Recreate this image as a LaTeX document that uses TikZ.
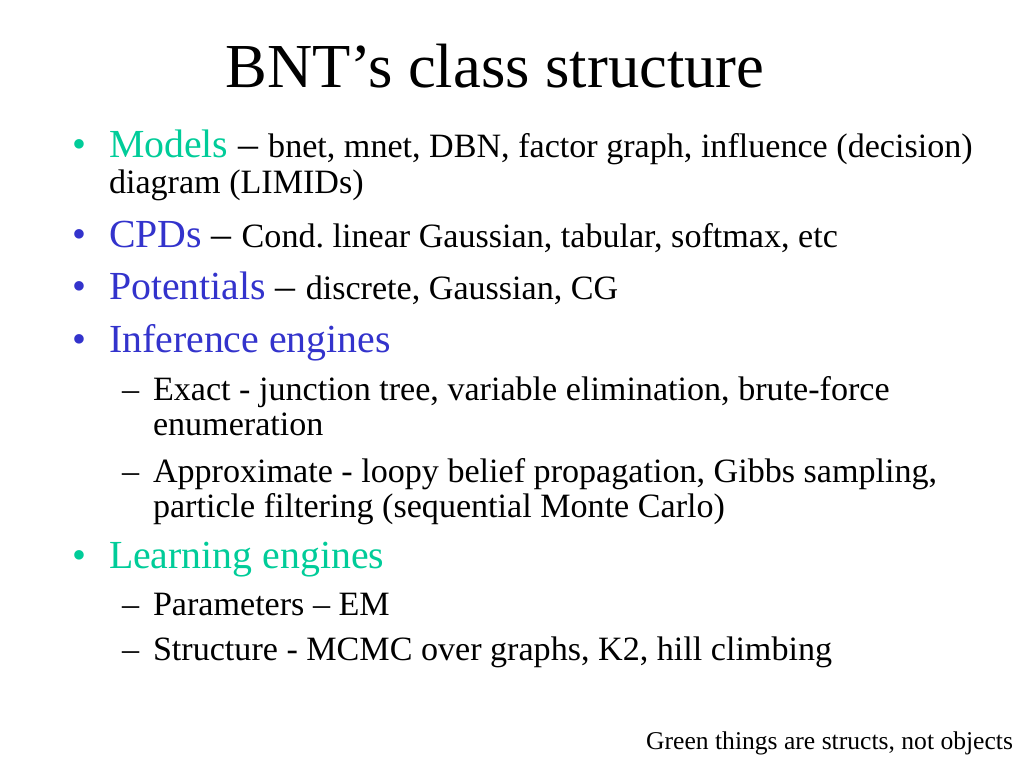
\documentclass[tikz,border=0pt]{standalone}
\usepackage{fontspec}
\setmainfont{Liberation Serif}
\frenchspacing
\definecolor{bntgreen}{HTML}{00CC99}
\definecolor{bntblue}{HTML}{3333CC}
\newcommand{\HeadFont}{\fontsize{39.8}{44}\selectfont}
\newcommand{\BodyFont}{\fontsize{34.1}{38}\selectfont}
\tikzset{
  txt/.style={anchor=base west, inner sep=0pt, outer sep=0pt},
  titletext/.style={anchor=base, inner sep=0pt, outer sep=0pt, font=\fontsize{62.6}{70}\selectfont},
  head/.style={txt, font=\HeadFont},
  body/.style={txt, font=\BodyFont},
  notetext/.style={anchor=base east, inner sep=0pt, outer sep=0pt, font=\fontsize{25.6}{30}\selectfont},
  gbul/.style={txt, font=\HeadFont, text=bntgreen},
  bbul/.style={txt, font=\HeadFont, text=bntblue},
  subdash/.style={txt, font=\BodyFont},
}
\begin{document}
\begin{tikzpicture}[x=1pt,y=1pt]
\useasboundingbox (0,0) rectangle (1024,-768);
\fill[white] (0,0) rectangle (1024,-768);
\node[titletext] (title) at (495,-87) {BNT’s class structure};
% Models
\node[gbul] (b1) at (72,-157) {•};
\node[head] (models) at (109,-157) {{\color{bntgreen}Models} – {\BodyFont bnet, mnet, DBN, factor graph, influence (decision)}};
\node[body] (models2) at (109,-193) {diagram (LIMIDs)};
% CPDs
\node[bbul] (b2) at (72,-247) {•};
\node[head] (cpds) at (109,-247) {{\color{bntblue}CPDs} – {\BodyFont Cond. linear Gaussian, tabular, softmax, etc}};
% Potentials
\node[bbul] (b3) at (72,-299) {•};
\node[head] (pots) at (109,-299) {{\color{bntblue}Potentials} – {\BodyFont discrete, Gaussian, CG}};
% Inference
\node[bbul] (b4) at (72,-352) {•};
\node[head, text=bntblue] (inf) at (109,-352) {Inference engines};
\node[subdash] (d1) at (122,-400) {–};
\node[body] (exact) at (153,-400) {Exact - junction tree, variable elimination, brute-force};
\node[body] (exact2) at (153,-435) {enumeration};
\node[subdash] (d2) at (122,-482) {–};
\node[body] (approx) at (153,-482) {Approximate - loopy belief propagation, Gibbs sampling,};
\node[body] (approx2) at (153,-517) {particle filtering (sequential Monte Carlo)};
% Learning
\node[gbul] (b5) at (72,-568) {•};
\node[head, text=bntgreen] (learn) at (109,-568) {Learning engines};
\node[subdash] (d3) at (122,-615) {–};
\node[body] (params) at (153,-615) {Parameters – EM};
\node[subdash] (d4) at (122,-660) {–};
\node[body] (struct) at (153,-660) {Structure - MCMC over graphs, K2, hill climbing};
% note
\node[notetext] (note) at (1013,-749) {Green things are structs, not objects};
\end{tikzpicture}
\end{document}
